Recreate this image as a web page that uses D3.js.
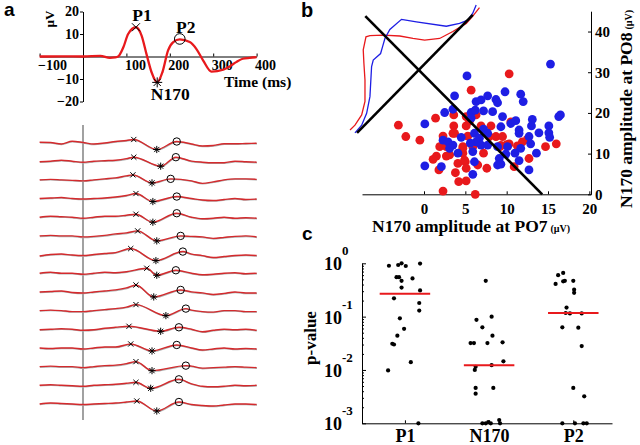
<!DOCTYPE html>
<html><head><meta charset="utf-8">
<script src="https://cdn.jsdelivr.net/npm/d3@7"></script>
<style>
body{margin:0;background:#fff;}
svg{display:block;}
text{font-family:"Liberation Serif","Times New Roman",serif;font-weight:bold;fill:#000;}
text.letter{font-family:"Liberation Sans",Arial,sans-serif;font-weight:bold;}
</style></head><body>
<svg id="chart" width="640" height="445"></svg>
<script>
// ===== Panel a (top): grand-average ERP =====
const waveTimes  = [-100,-50,0,40,62,74,81,93,104,122,135,146,158,171,183,196,208,223,246,261,277,296,323,338,353,368,384,400];
const waveValues = [0,0.1,0,0.3,-0.6,-0.4,0,4.1,10,13,9.3,1.3,-7,-11.5,-7,2.7,6.4,7.6,6.4,3.4,-1.8,-6.7,-5.9,-4.4,-2.5,-1,-0.6,-0.3];
const waveTicksX = [-100,100,200,300,400];
const waveTicksY = [-20,-10,10,20];
const peakLabels = ["P1","N170","P2"];
const peakTimes  = [122,171,223];
const peakValues = [13,-11.5,7.8];

// ===== Panel a (bottom): single-trial traces =====
const trialPreTimes  = [-100,-75,-50,-25,0,25,50,75,100];
const trialPostTimes = [250,275,300,325,350,375,400];
const trialPre = [
  [0.3,0,-1.5,1.2,0,-1.5,-0.5,1,2],
  [-0.5,0,1,0,-1,0,0.5,1,2.5],
  [0,0.5,0,-0.5,-1,0,1,2,4],
  [0,0.5,1,0,-0.5,0,0.5,1.5,3],
  [0,1,0.5,0,-1,0,1,1,2],
  [0,0.5,0,0,-1,-0.5,0.5,2,3],
  [-1.5,0,0.5,-0.5,-1,0,1,2,4],
  [0,1,0,0,-1,0,1,0.5,1.5],
  [0,0.5,1,-0.5,-1,0,1,2,4],
  [0,0.5,0,-1,-1,0,1,2,3.5],
  [-0.5,0,0.5,0,-1,-0.5,1,2,2.5],
  [0,-0.5,0,0,-1,0,1,1,3],
  [0,0.5,0,0,-1,0,1,1.5,3],
  [0,0.5,0,-0.5,-1,0,0.5,1,2],
  [0,1,0.5,0,-0.5,0,0.5,1,2]
];
const trialPost = [
  [-1.5,-3.5,-3,-1.3,-1.3,-1,-0.7],
  [0,-1,-1.5,-1.5,0,-0.5,-1],
  [-1,-3.5,-2,0,1,1,0.5],
  [0,-1.5,-2,-1,0,-1,-0.5],
  [0,-1.5,-1,0,-1,-0.5,-1],
  [-0.5,-1,-2.5,-1.5,-0.5,0,-1],
  [0.5,-1,-3,-2,-1,-0.5,-1],
  [0,-1.5,-1,0,0.5,-0.5,0],
  [0,-1,-2.5,-1.5,0,-1,-1],
  [0.5,-1,-1.5,0,0,-1,-1],
  [0,-2.5,-1,0,-0.5,0,-1],
  [0,-2,-1,0,-1,-0.5,-1],
  [0.5,-1.5,-1,-0.5,0,-0.5,-1],
  [1.5,-1,-1.5,-1,0,-0.5,0],
  [-0.5,-1.5,-2,-1,0,0,-0.5]
];
const trialP1Lat   = [117,117,115,122,122,126,110,147,122,122,106,110,122,122,124];
const trialP1Amp   = [3,4,5,5,3,5,6,5,7,6,3,4,5,3,3];
const trialN170Lat = [170,179,159,161,161,170,168,170,163,191,179,159,159,156,170];
const trialN170Amp = [-7,-5,-3,-3,-5,-5,-6,-2,-5,-5,-2,-3,-4,-3,-7];
const trialP2Lat   = [216,214,202,216,216,225,230,214,225,237,221,216,237,221,221];
const trialP2Amp   = [1,4,1,2,4,0,3,3,2,2,2,3,1,6,2];

// ===== Panel b: scatter PO7 vs PO8 =====
const scatterTicksX = [0,5,10,15,20];
const scatterTicksY = [0,10,20,30,40];
const redPO7 = [10.3,5.7,-3.1,-2.2,-0.5,1.4,3.6,3.6,5.1,6.3,5.1,6.9,8.1,2.3,3.5,5.3,7.9,8.7,9.5,10.5,10.3,11.3,11.9,14.7,16.0,1.9,2.7,4.7,5.9,1.5,2.7,4.7,7.2,1.1,4.1,5.0,6.5,7.6,1.8,3.8,10.9,12.7,4.2,5.1,2.3,6.2,3.1,3.7,4.7,4.9,5.1,9.3,10.0,12.5,5.5,9.2];
const redPO8 = [29.6,25.6,17.0,14.2,13.3,18.7,19.5,16.8,16.8,19.5,19.1,16.8,16.8,14.3,15.0,14.3,14.2,14.2,14.2,17.8,12.4,11.9,12.9,11.7,12.4,11.7,11.7,11.7,11.7,9.4,9.4,10.1,10.1,8.6,7.6,8.0,7.2,6.4,6.0,5.3,6.8,8.8,3.1,3.3,0.8,0.0,9.7,15.0,11.3,8.4,6.4,12.0,12.2,13.5,18.0,11.7];
const bluePO7 = [15.3,5.2,9.8,3.7,7.7,6.9,8.7,6.3,11.7,12.0,8.9,2.5,3.5,5.7,6.2,7.2,8.3,9.5,0.1,5.7,9.3,10.5,11.1,13.1,15.1,16.3,16.5,11.5,13.0,13.9,15.1,15.2,12.7,11.5,4.5,6.1,6.7,7.7,2.3,2.9,3.5,3.1,6.3,6.9,7.7,8.9,10.1,11.7,12.9,4.1,5.9,9.9,11.0,13.6,9.1,11.5,6.1,8.9,9.3,0.1,2.1,12.7,5.9,7.2,5.6];
const bluePO8 = [32.0,29.1,25.2,24.2,24.2,23.2,23.3,22.8,24.6,22.8,22.5,20.1,20.9,20.1,20.7,20.5,20.3,19.1,17.3,18.7,16.6,17.4,18.1,18.4,16.8,19.1,19.5,15.8,16.8,15.1,15.1,14.0,14.2,15.0,14.0,15.0,13.8,15.0,13.3,12.9,12.1,11.3,12.9,12.1,12.1,11.7,11.7,11.3,12.4,10.1,10.5,9.9,10.1,10.1,8.8,8.3,8.0,7.2,7.4,7.0,6.8,6.0,4.9,16.0,12.6];
// projected distributions (drawn in the PO7/PO8 plane)
const redDistPO7  = [-8.95,-8.35,-7.54,-7.14,-7.14,-7.27,-7.35,-7.02,-6.54,-4.94,-2.93,-1.33,0.08,1.89,3.49,5.11,5.90,6.71];
const redDistPO8  = [15.8,17.0,19.5,22.8,28.1,32.2,35.5,38.7,39.0,39.1,38.9,38.3,37.9,38.3,40.0,42.0,43.8,45.9];
const blueDistPO7 = [-8.35,-7.54,-6.94,-6.54,-6.34,-6.14,-5.25,-5.01,-4.73,-4.13,-2.72,-0.92,2.70,4.30,5.30,5.90,6.31];
const blueDistPO8 = [15.1,17.0,19.9,24.0,31.4,33.0,34.6,36.3,38.3,40.5,43.0,42.4,41.3,42.0,42.8,44.5,46.5];
const diagDescPO7 = [-7.1,14.3];
const diagDescPO8 = [43.8,0];
const diagAscPO7  = [-8.1,5.9];
const diagAscPO8  = [15.1,44.1];

// ===== Panel c: p-values =====
const components = ["P1","N170","P2"];
const pvalP1   = [0.90,0.93,1.0,0.89,0.99,0.55,0.55,0.47,0.52,0.35,0.22,0.31,0.18,0.13,0.093,0.059,0.044,0.031,0.030,0.014,0.0098,0.001];
const jitterP1 = [-0.19,-0.08,-0.04,0.01,0.18,-0.10,-0.07,-0.04,0.09,-0.04,-0.13,0.18,0.17,0.17,-0.06,-0.01,-0.09,-0.15,-0.13,0.07,-0.20,0.16];
const pvalN170   = [0.47,0.087,0.10,0.063,0.032,0.032,0.044,0.032,0.033,0.0145,0.0123,0.0115,0.010,0.0046,0.0036,0.0046,0.001,0.001,0.00105,0.001,0.00115,0.001];
const jitterN170 = [-0.04,-0.15,0.03,-0.08,-0.22,-0.18,0.04,-0.02,0.16,0.17,0.03,-0.16,-0.17,-0.16,-0.16,0.05,-0.08,-0.04,-0.01,0.02,0.12,0.13];
const pvalP2   = [0.60,0.66,0.41,0.46,0.47,0.47,0.32,0.28,0.148,0.117,0.115,0.115,0.063,0.062,0.028,0.0046,0.0032,0.001,0.001,0.001,0.001];
const jitterP2 = [-0.18,-0.12,-0.21,-0.12,-0.10,0.0,0.01,0.01,-0.08,-0.09,-0.04,0.10,-0.13,0.06,0.10,0.0,0.13,-0.13,0.02,0.12,0.16];
const medianP = [0.27,0.0123,0.117];
const pTickExponents = [0,-1,-2,-3];

// =================== drawing ===================
const svg = d3.select("#chart");
const RED = "#e8191c", BLUE = "#1e1ee4";

function styleAxis(g, size){
  g.attr("font-family", null).attr("font-size", null);
  g.selectAll("text").style("font-size", size + "px").attr("fill", "#000");
  g.selectAll("path,line").attr("stroke", "#000");
}

// ---- panel a top ----
const xT = d3.scaleLinear().domain([-100,400]).range([39.6,256.6]);
const yW = d3.scaleLinear().domain([-20,20]).range([101.5,11.5]);

const axXa = svg.append("g").attr("transform", `translate(0,${yW(0)})`)
  .call(d3.axisBottom(xT).tickValues(waveTicksX).tickSize(-3).tickSizeOuter(0).tickPadding(4));
styleAxis(axXa, 14);
axXa.selectAll("text").attr("text-anchor", "start").attr("x", -2);

const axYa = svg.append("g").attr("transform", `translate(${xT(0)},0)`)
  .call(d3.axisLeft(yW).tickValues(waveTicksY).tickSize(3).tickSizeOuter(0).tickPadding(1));
styleAxis(axYa, 14);

svg.append("text").attr("transform", "translate(54,19) rotate(-90)")
  .attr("text-anchor", "middle").style("font-size", "13px").text("µV");
svg.append("text").attr("x", 224).attr("y", 87).style("font-size", "15.5px").text("Time (ms)");

svg.append("path")
  .datum(waveTimes.map((t, i) => [t, waveValues[i]]))
  .attr("fill", "none").attr("stroke", RED).attr("stroke-width", 2.3)
  .attr("d", d3.line().x(d => xT(d[0])).y(d => yW(d[1])).curve(d3.curveMonotoneX));

function cross(g, x, y, s){
  g.append("path").attr("d", `M${x-s},${y-s}L${x+s},${y+s}M${x-s},${y+s}L${x+s},${y-s}`)
    .attr("stroke", "#000").attr("stroke-width", 1).attr("fill", "none");
}
function star(g, x, y, s){
  const d = s * 0.72;
  g.append("path").attr("d",
    `M${x},${y-s}L${x},${y+s}M${x-s},${y}L${x+s},${y}M${x-d},${y-d}L${x+d},${y+d}M${x-d},${y+d}L${x+d},${y-d}`)
    .attr("stroke", "#000").attr("stroke-width", 1).attr("fill", "none");
}
function ring(g, x, y, r){
  g.append("circle").attr("cx", x).attr("cy", y).attr("r", r)
    .attr("fill", "none").attr("stroke", "#000").attr("stroke-width", 1);
}
const gPk = svg.append("g");
cross(gPk, xT(peakTimes[0]), yW(peakValues[0]), 4);
star(gPk, xT(peakTimes[1]), yW(peakValues[1]), 5);
ring(gPk, xT(peakTimes[2]), yW(peakValues[2]), 5.3);
svg.append("text").attr("x", xT(peakTimes[0]) + 6).attr("y", 21).attr("text-anchor", "middle").style("font-size", "17.5px").text(peakLabels[0]);
svg.append("text").attr("x", xT(peakTimes[1]) + 13).attr("y", 100).attr("text-anchor", "middle").style("font-size", "17.5px").text(peakLabels[1]);
svg.append("text").attr("x", xT(peakTimes[2]) + 6).attr("y", 33).attr("text-anchor", "middle").style("font-size", "17.5px").text(peakLabels[2]);

// ---- panel a bottom: trials ----
const rowY = d3.scalePoint().domain(d3.range(trialPre.length)).range([142.5, 404]);
const yTr = d3.scaleLinear().domain([-10,10]).range([10,-10]);
svg.append("line").attr("x1", xT(0)).attr("x2", xT(0)).attr("y1", 125).attr("y2", 420)
  .attr("stroke", "#555").attr("stroke-width", 1.1);
const trLine = d3.line().x(d => xT(d[0])).y(d => yTr(d[1])).curve(d3.curveMonotoneX);
trialPre.forEach((pre, i) => {
  const pts = [];
  trialPreTimes.forEach((t, j) => { if (t < trialP1Lat[i] - 12) pts.push([t, pre[j]]); });
  pts.push([trialP1Lat[i], trialP1Amp[i]]);
  pts.push([trialN170Lat[i], trialN170Amp[i]]);
  pts.push([trialP2Lat[i], trialP2Amp[i]]);
  trialPostTimes.forEach((t, j) => { if (t > trialP2Lat[i] + 12) pts.push([t, trialPost[i][j]]); });
  const g = svg.append("g").attr("transform", `translate(0,${rowY(i)})`);
  g.append("path").datum(pts).attr("d", trLine).attr("fill", "none")
    .attr("stroke", "#b0b0b0").attr("stroke-width", 1.5).attr("transform", "translate(0.4,0.5)");
  g.append("path").datum(pts).attr("d", trLine).attr("fill", "none")
    .attr("stroke", "#d42a2d").attr("stroke-width", 1.4);
  cross(g, xT(trialP1Lat[i]), yTr(trialP1Amp[i]), 2.6);
  star(g, xT(trialN170Lat[i]), yTr(trialN170Amp[i]), 3.6);
  ring(g, xT(trialP2Lat[i]), yTr(trialP2Amp[i]), 3.7);
});

// ---- panel b ----
const xS = d3.scaleLinear().domain([-7.5,20.2]).range([362,591]);
const yS = d3.scaleLinear().domain([0,45]).range([194.3,11.2]);
const axXb = svg.append("g").attr("transform", `translate(0,${yS(0)})`)
  .call(d3.axisBottom(xS).tickValues(scatterTicksX).tickSize(-3).tickSizeOuter(0).tickPadding(9));
styleAxis(axXb, 15);
const axYb = svg.append("g").attr("transform", `translate(${xS.range()[1]},0)`)
  .call(d3.axisRight(yS).tickValues(scatterTicksY).tickSize(-3).tickSizeOuter(0).tickPadding(4));
styleAxis(axYb, 15);

const tb = svg.append("text").attr("x", 372).attr("y", 232).style("font-size", "17.5px");
tb.append("tspan").text("N170 amplitude at PO7");
tb.append("tspan").attr("dx", 3).style("font-size", "10px").text("(µV)");
const tby = svg.append("text").attr("transform", "translate(632,208) rotate(-90)").style("font-size", "17.5px");
tby.append("tspan").text("N170 amplitude at PO8");
tby.append("tspan").attr("dx", 3).style("font-size", "10px").text("(µV)");

svg.append("g").selectAll("circle").data(redPO7).join("circle")
  .attr("cx", d => xS(d)).attr("cy", (d, i) => yS(redPO8[i])).attr("r", 4.4).attr("fill", RED);
svg.append("g").selectAll("circle").data(bluePO7).join("circle")
  .attr("cx", d => xS(d)).attr("cy", (d, i) => yS(bluePO8[i])).attr("r", 4.4).attr("fill", BLUE);

const lineS = d3.line().x(d => xS(d[0])).y(d => yS(d[1]));
svg.append("path").datum(redDistPO7.map((v, i) => [v, redDistPO8[i]]))
  .attr("d", lineS).attr("fill", "none").attr("stroke", RED).attr("stroke-width", 1.3);
svg.append("path").datum(blueDistPO7.map((v, i) => [v, blueDistPO8[i]]))
  .attr("d", lineS).attr("fill", "none").attr("stroke", BLUE).attr("stroke-width", 1.3);
svg.append("path").datum(diagDescPO7.map((v, i) => [v, diagDescPO8[i]]))
  .attr("d", lineS).attr("fill", "none").attr("stroke", "#000").attr("stroke-width", 2.6);
svg.append("path").datum(diagAscPO7.map((v, i) => [v, diagAscPO8[i]]))
  .attr("d", lineS).attr("fill", "none").attr("stroke", "#000").attr("stroke-width", 2.6);

// ---- panel c ----
const xC = d3.scaleLinear().domain([0.49,3.46]).range([362,612]);
const yC = d3.scaleLog().domain([1e-3,1]).range([423.3,263.3]);
const axXc = svg.append("g").attr("transform", `translate(0,${yC(1e-3)})`)
  .call(d3.axisBottom(xC).tickValues([1,2,3]).tickFormat(i => components[i-1]).tickSize(-3).tickSizeOuter(0).tickPadding(6));
styleAxis(axXc, 18);
const minorTicks = yC.ticks().filter(v => Math.abs(Math.log10(v) - Math.round(Math.log10(v))) > 1e-6);
const axYcMinor = svg.append("g").attr("transform", `translate(${xC(0.49)},0)`)
  .call(d3.axisLeft(yC).tickValues(minorTicks).tickSize(-2).tickSizeOuter(0).tickFormat(""));
styleAxis(axYcMinor, 10);
const axYc = svg.append("g").attr("transform", `translate(${xC(0.49)},0)`)
  .call(d3.axisLeft(yC).tickValues(pTickExponents.map(e => Math.pow(10, e))).tickSize(-4).tickSizeOuter(0).tickFormat(""));
styleAxis(axYc, 10);
pTickExponents.forEach(e => {
  const y = yC(Math.pow(10, e));
  svg.append("text").attr("x", 342).attr("y", y + 7).attr("text-anchor", "end").style("font-size", "18px").text("10");
  svg.append("text").attr("x", 342).attr("y", y - 8).attr("text-anchor", "start").style("font-size", "13px").text(String(e));
});
svg.append("text").attr("transform", "translate(316,338) rotate(-90)").attr("text-anchor", "middle")
  .style("font-size", "17px").text("p-value");

const groupsC = [[pvalP1, jitterP1], [pvalN170, jitterN170], [pvalP2, jitterP2]];
groupsC.forEach(([pv, jit], k) => {
  svg.append("g").selectAll("circle").data(pv).join("circle")
    .attr("cx", (d, i) => xC(k + 1 + jit[i])).attr("cy", d => yC(d)).attr("r", 2.1).attr("fill", "#000");
  svg.append("line").attr("x1", xC(k + 1 - 0.3)).attr("x2", xC(k + 1 + 0.3))
    .attr("y1", yC(medianP[k])).attr("y2", yC(medianP[k]))
    .attr("stroke", RED).attr("stroke-width", 2);
});

// ---- panel letters ----
svg.append("text").attr("class", "letter").attr("x", 4).attr("y", 16).style("font-size", "19px").text("a");
svg.append("text").attr("class", "letter").attr("x", 301).attr("y", 17).style("font-size", "20px").text("b");
svg.append("text").attr("class", "letter").attr("x", 302).attr("y", 240).style("font-size", "19px").text("c");
</script>
</body></html>
